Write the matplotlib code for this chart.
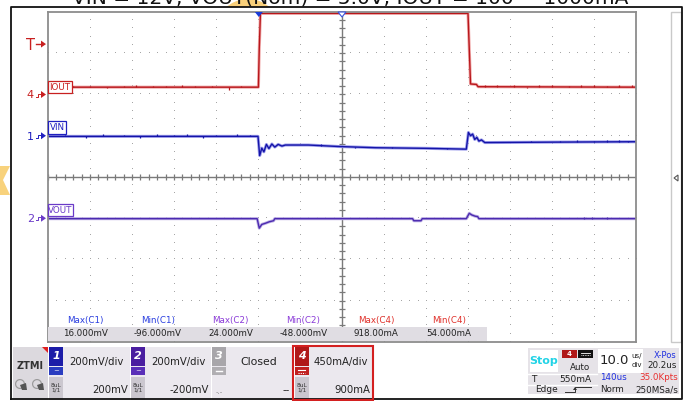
import numpy as np
import matplotlib.pyplot as plt
from matplotlib.patches import Rectangle, Polygon, Wedge

# scope settings
t_div_us = 10.0
n_hdiv, n_vdiv = 14, 8
ch1_scale_mv, ch1_offset_mv = 200, 200
ch2_scale_mv, ch2_offset_mv = 200, -200
ch4_scale_ma, ch4_offset_ma = 450, 900
trig_level_ma = 550
trig_pos_us = -19.8

title = "VIN = 12V, VOUT(Nom) = 5.0V, IOUT = 100 ~ 1000mA"

# captured traces, time in us from screen centre
iout_t = [-70, -19.9, -19.7, -19.4, -19.2, 30.0, 30.3, 30.6, 32.0, 32.4, 70]
iout_ma = [80, 80, 500, 918, 885, 885, 500, 115, 110, 85, 80]
iout_glitch_t = [-64, -60, -56, -52, -49, -45, -42, -38, -35, -31, -27, -24,
                 34, 37, 41, 44, 47, 50, 54, 57, 60, 63, 66, 69]
iout_glitch_ma = [18, 15, -12, 18, 22, 15, 18, 22, 15, 18, -26, 15,
                  15, 18, 15, -12, 22, 18, 15, 22, 18, 15, 18, 22]

vin_t = [-70, -20.0, -19.6, -19.1, -18.6, -18.0, -17.4, -16.7, -16.0, -15.2,
         -14.3, -13.5, -8, -1, 8, 20, 29.6, 30.1, 30.6, 31.1, 31.6, 32.1,
         32.6, 33.2, 34.0, 50, 70]
vin_mv = [-3, -3, -96, -60, -78, -42, -62, -40, -55, -42,
          -50, -45, -45, -52, -58, -61, -65, 16, 0, 8, -18, -8,
          -26, -20, -33, -31, -29]
vin_glitch_t = [-66, -61, -57, -52, -48, -44, -40, -37, -33, -30, -25, -22,
                -5, 3, 12, 25, 45, 52, 56, 60, 63, 66, 68]
vin_glitch_mv = [8, -6, 10, 8, -6, 10, 8, 10, -6, 8, 10, 8,
                 6, -6, 6, 6, 6, 6, 8, 6, 8, 8, 6]

vout_t = [-70, -20.2, -19.7, -19.1, -18.2, -17.3, -16.3, -16.0, 16.8, 17.1,
          18.8, 19.1, 29.6, 30.3, 30.9, 31.7, 32.3, 32.6, 70]
vout_mv = [-2, -2, -48, -30, -24, -17, -12, -2, -2, -12,
           -12, -2, -2, 24, 16, 10, 8, -2, -2]
vout_glitch_t = [57.5, 59.5, 63.0]
vout_glitch_mv = [6, 6, 6]

# measurement readout
meas_names = ["Max(C1)", "Min(C1)", "Max(C2)", "Min(C2)", "Max(C4)", "Min(C4)"]
meas_values = ["16.000mV", "-96.000mV", "24.000mV", "-48.000mV", "918.00mA", "54.000mA"]
meas_colors = ["#2a3ee0", "#2a3ee0", "#8a3ad8", "#8a3ad8", "#e0302a", "#e0302a"]

# channel panel text
ch_scales = ["200mV/div", "200mV/div", "Closed", "450mA/div"]
ch_offsets = ["200mV", "-200mV", "--", "900mA"]

RED, RED_L = "#b8161b", "#f0a8a8"
BLUE, BLUE_L = "#1414a8", "#a0a0ec"
PURP, PURP_L = "#4b2ab0", "#bcaee4"

W, H = 688, 401
fig = plt.figure(figsize=(W / 100, H / 100), dpi=100)

# plot window in pixels
px0, py0, px1, py1 = 48, 12, 636, 342
ax = fig.add_axes([px0 / W, 1 - py1 / H, (px1 - px0) / W, (py1 - py0) / H])
xh = n_hdiv * t_div_us / 2
ax.set_xlim(-xh, xh)
ax.set_ylim(-n_vdiv / 2, n_vdiv / 2)
ax.set_xticks([])
ax.set_yticks([])
for s in ax.spines.values():
    s.set_color("#8c8c8c")
    s.set_linewidth(1.3)
ax.set_zorder(2)

# dotted graticule
gx = np.arange(-xh, xh + 0.01, t_div_us * 0.2)
gy = np.arange(-4, 4.01, 0.2)
for k in range(-6, 7):
    if k != 0:
        ax.plot(np.full_like(gy, k * t_div_us), gy, ",", color="#a6a6a6")
for k in range(-3, 4):
    if k != 0:
        ax.plot(gx, np.full_like(gx, k), ",", color="#a6a6a6")
ax.axhline(0, color="#7a7a7a", lw=1)
ax.axvline(0, color="#7a7a7a", lw=1)
ax.vlines(gx, -0.075, 0.075, color="#7a7a7a", lw=0.9)
ax.hlines(gy, -0.75, 0.75, color="#7a7a7a", lw=0.9)


def draw_trace(t, y, gt, gy_, c, cl):
    ax.plot(t, y, color=cl, lw=2.2)
    ax.plot(t, y, color=c, lw=1.0)
    base = np.interp(gt, t, y)
    ax.vlines(gt, base, base + np.array(gy_), color=c, lw=0.9)


iout_div = (np.array(iout_ma) + ch4_offset_ma) / ch4_scale_ma
draw_trace(iout_t, iout_div, iout_glitch_t,
           np.array(iout_glitch_ma) / ch4_scale_ma, RED, RED_L)
vin_div = (np.array(vin_mv) + ch1_offset_mv) / ch1_scale_mv
draw_trace(vin_t, vin_div, vin_glitch_t,
           np.array(vin_glitch_mv) / ch1_scale_mv, BLUE, BLUE_L)
vout_div = (np.array(vout_mv) + ch2_offset_mv) / ch2_scale_mv
draw_trace(vout_t, vout_div, vout_glitch_t,
           np.array(vout_glitch_mv) / ch2_scale_mv, PURP, PURP_L)

# overlay in pixel coordinates for the instrument chrome
ui = fig.add_axes([0, 0, 1, 1])
ui.set_xlim(0, W)
ui.set_ylim(H, 0)
ui.axis("off")
ui.set_zorder(3)
ui.patch.set_alpha(0)


def rect(x0, y0, x1, y1, fc="none", ec="none", lw=1.0, z=1):
    ui.add_patch(Rectangle((x0, y0), x1 - x0, y1 - y0, fc=fc, ec=ec, lw=lw, zorder=z))


def txt(x, y, s, size=6.5, color="#222222", ha="center", **kw):
    ui.text(x, y, s, fontsize=size, color=color, ha=ha, va="center", **kw)


def ypix(div):
    return (py0 + py1) / 2 - div * (py1 - py0) / n_vdiv


def xpix(us):
    return (px0 + px1) / 2 + us * (px1 - px0) / (2 * xh)


# faint orange watermark pieces
ring = Wedge((248, 32), 33, 0, 360, width=9, fc="#f8cf7a", ec="none", zorder=0)
ui.add_patch(ring)
ring.set_clip_path(Rectangle((0, 0), W, 6.5, transform=ui.transData))
ui.add_patch(Polygon([[0, 166], [10, 166], [3, 180], [10, 195], [0, 195], [-4, 180]],
                     fc="#f8d27c", ec="none", zorder=0))

# heading line sits mostly above the top edge
ui.text(350, 3.5, title, fontsize=14.5, color="#111111", ha="center", va="baseline", zorder=2)

# outer frame
ui.plot([11, 11, 682, 682, 11], [399, 6.5, 6.5, 399, 399], color="#111111", lw=1.3, zorder=2)

# right hand side strip
rect(671, 12, 681, 342, fc="white", ec="#c9c9c9", lw=1)
ui.add_patch(Polygon([[674, 178], [678, 175], [678, 181]], fc="white", ec="#555555", lw=0.8))

# trigger position markers
tx = xpix(trig_pos_us)
ui.add_patch(Polygon([[tx - 4, 12], [tx + 4, 12], [tx, 17]], fc="#1a3cd8", ec="none", zorder=4))
ui.add_patch(Polygon([[xpix(0) - 4, 12], [xpix(0) + 4, 12], [xpix(0), 17]],
                     fc="white", ec="#3a55e0", lw=0.8, zorder=4))


# channel ground markers and trigger level
def ground_mark(y, label, color, size=8):
    txt(34, y + 1, label, size=size, color=color, ha="right")
    ui.plot([36, 37.5, 37.5, 39.5], [y + 2, y + 2, y - 1, y - 1], color=color, lw=0.7)
    ui.add_patch(Polygon([[41, y - 3.5], [46, y], [41, y + 3.5]], fc=color, ec="none"))


ground_mark(ypix(ch4_offset_ma / ch4_scale_ma), "4", "#c82020")
ground_mark(ypix(ch1_offset_mv / ch1_scale_mv), "1", "#2020c0")
ground_mark(ypix(ch2_offset_mv / ch2_scale_mv), "2", "#6a3ac8")
ty = ypix((trig_level_ma + ch4_offset_ma) / ch4_scale_ma)
txt(31, ty + 1, "T", size=10.5, color="#c82020")
ui.plot([36, 41], [ty, ty], color="#c82020", lw=1)
ui.add_patch(Polygon([[41, ty - 3.5], [46, ty], [41, ty + 3.5]], fc="#c82020", ec="none"))

# trace name tags
for (x0, y0, x1, y1, s, c) in [(48, 81, 72, 93, "IOUT", "#c82020"),
                               (48, 121, 66, 134, "VIN", "#2020c0"),
                               (48, 204, 73, 216, "VOUT", "#6a3ac8")]:
    rect(x0, y0, x1, y1, fc="white", ec=c, lw=0.9, z=3)
    txt((x0 + x1) / 2, (y0 + y1) / 2 + 0.5, s, size=6.3, color=c, zorder=4)

# measurement readout
rect(48, 327, 487, 341, fc="#e0dde3", z=1)
for i, (n, v, c) in enumerate(zip(meas_names, meas_values, meas_colors)):
    cx = 85 + i * 72.8
    txt(cx, 320, n, size=6.3, color=c)
    txt(cx, 334, v, size=6.3, color="#222222")

# bottom: logo block
rect(13, 347, 48, 400, fc="#dcd9de")
ui.add_patch(Polygon([[42, 347], [48, 347], [48, 353]], fc="#e02020", ec="none"))
txt(30, 366, "ZTMI", size=7, color="#333333", weight="bold")
for cx in (21, 38):
    ui.add_patch(Wedge((cx - 1, 384), 5, 0, 360, width=1.2, fc="#9a9a9a", ec="none"))
    ui.add_patch(Polygon([[cx - 1, 385], [cx + 5, 383], [cx + 6, 390], [cx + 1, 390]],
                         fc="#555555", ec="none"))

# bottom: channel panels
ch_x = [49, 131, 212, 295]
ch_w = [81, 80, 80, 77]
ch_col = ["#1c1ca8", "#4a1ea0", "#a8a6aa", "#b01818"]
ch_col2 = ["#2a3cc0", "#5a30b8", "#b0aeb2", "#c02020"]
for i in range(4):
    x0 = ch_x[i]
    rect(x0, 347, x0 + ch_w[i], 400, fc="#ebe8ee")
    rect(x0, 347, x0 + 14, 366, fc=ch_col[i])
    txt(x0 + 7, 356, str(i + 1), size=8, color="white", weight="bold", style="italic")
    rect(x0, 367, x0 + 14, 375, fc=ch_col2[i])
    if i != 2:
        rect(x0, 377, x0 + 14, 400, fc="#cbc7cf")
        txt(x0 + 7, 388, "8uL\n1/1", size=4.2, color="#333333", linespacing=0.9)
    else:
        txt(x0 + 7, 392, "-.-", size=5, color="#888888")
    txt(x0 + 14 + (ch_w[i] - 14) / 2, 362, ch_scales[i], size=7.3 if i != 2 else 7.8)
    txt(x0 + ch_w[i] - 2, 390, ch_offsets[i], size=7.3, ha="right")
txt(56, 371, "~", size=5, color="white")
txt(138, 371, "~", size=5, color="white")
ui.plot([216, 222], [371, 371], color="white", lw=1)
ui.plot([298, 305], [370, 370], color="white", lw=0.8)
ui.plot([298, 305], [372.5, 372.5], color="white", lw=0.8, ls=(0, (1, 1)))
rect(293, 346, 373, 400, ec="#d42020", lw=1.5, z=3)

# bottom: trigger panel
rect(528, 348, 597, 394, fc="#e6e3e8")
rect(530, 350, 558, 372, fc="white")
txt(544, 361, "Stop", size=8, color="#22d3e6", weight="bold")
rect(562, 350, 577, 358, fc="#b01818")
txt(569.5, 354, "4", size=5, color="white", weight="bold")
rect(578, 350, 593, 358, fc="#111111")
ui.plot([581, 590], [353, 353], color="white", lw=0.6)
ui.plot([581, 590], [355, 355], color="white", lw=0.6, ls=(0, (1, 1)))
txt(580, 367, "Auto", size=6.3)
ui.plot([528, 597], [373.5, 373.5], color="white", lw=1)
ui.plot([528, 597], [385, 385], color="white", lw=1)
txt(531, 379, "T", size=6.5, ha="left")
txt(591, 379, "550mA", size=6.5, ha="right")
txt(547, 390, "Edge", size=6.5)
ui.plot([565, 575, 575, 591], [392, 392, 387, 387], color="#333333", lw=0.7)
ui.add_patch(Polygon([[573, 390], [575, 387], [577, 390]], fc="#333333", ec="none"))

# bottom: timebase panel
rect(597, 348, 679, 394, fc="#e6e3e8")
rect(598, 349, 643, 373, fc="white")
txt(614, 361, "10.0", size=9.5)
txt(637, 356, "us/", size=5)
txt(637, 365, "div", size=5)
txt(665, 355, "X-Pos", size=6, color="#2030e0")
txt(662, 365, "20.2us", size=6.3)
txt(600, 378, "140us", size=6.3, color="#2030e0", ha="left")
txt(678, 378, "35.0Kpts", size=6.3, color="#e83030", ha="right")
txt(600, 390, "Norm", size=6.3, ha="left")
txt(678, 390, "250MSa/s", size=6.3, ha="right")

fig.savefig("out.png", dpi=100)
